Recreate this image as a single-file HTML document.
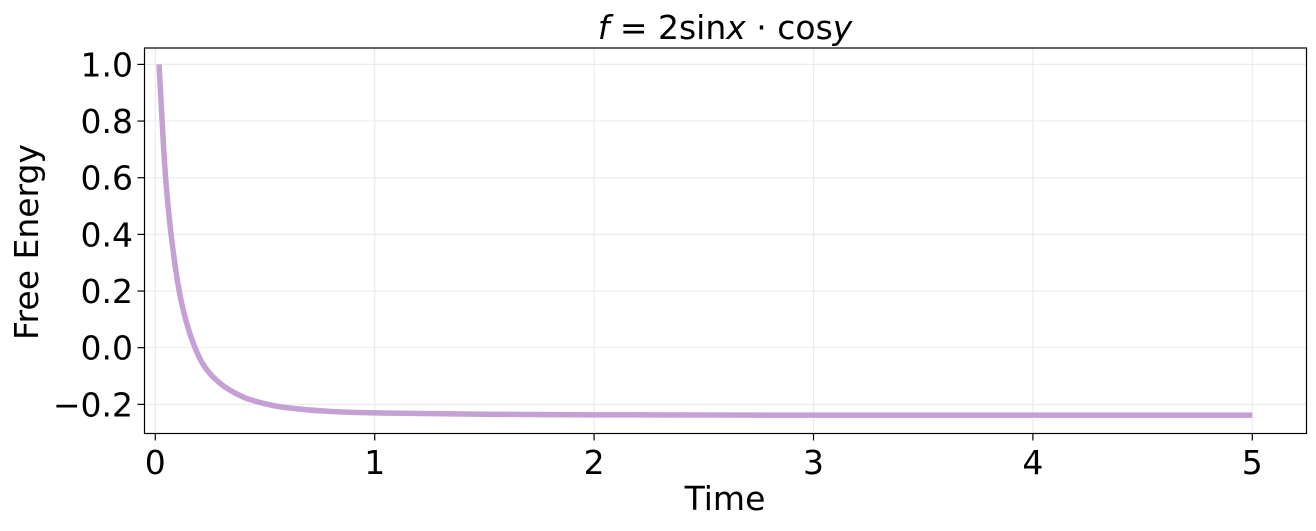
<!DOCTYPE html>
<html><head><meta charset="utf-8"><style>
body{margin:0;background:#fff;}
svg text{font-family:"DejaVu Sans","Liberation Sans",sans-serif;fill:#000;}
</style></head><body>
<svg id="chart" width="1316" height="526" viewBox="0 0 1316 526">
<g id="grid"></g>
<g id="curve"></g>
<rect x="144.5" y="48" width="1162" height="385.5" fill="none" stroke="#000" stroke-width="1.2"/>
<g id="axes"></g>
<text x="725" y="39" font-size="33" text-anchor="middle"><tspan font-style="italic">f</tspan> = 2sin<tspan font-style="italic">x</tspan> · cos<tspan font-style="italic">y</tspan></text>
<text x="725" y="510" font-size="33" text-anchor="middle">Time</text>
<text transform="translate(38,242) rotate(-90)" font-size="33" text-anchor="middle">Free Energy</text>
</svg>
<script>
const times=[0.017,0.031,0.047,0.072,0.109,0.14,0.176,0.215,0.263,0.33,0.43,0.6,0.8,1.0,1.5,2,3,4,5];
const energy=[1.0,0.8,0.6,0.4,0.2,0.095,0.01,-0.055,-0.103,-0.145,-0.183,-0.212,-0.225,-0.23,-0.235,-0.237,-0.238,-0.238,-0.238];
const xTicks=[0,1,2,3,4,5];
const yTicks=[-0.2,0,0.2,0.4,0.6,0.8,1.0];
const yTickLabels=["\u22120.2","0.0","0.2","0.4","0.6","0.8","1.0"];
const NS="http://www.w3.org/2000/svg";
function xs(t){return 155.3+t*219.4;}
function ys(v){return 347.7-v*283.3;}
function mk(tag,attrs,parent){const e=document.createElementNS(NS,tag);for(const k in attrs)e.setAttribute(k,attrs[k]);parent.appendChild(e);return e;}
const grid=document.getElementById('grid'),axes=document.getElementById('axes'),curve=document.getElementById('curve');
xTicks.forEach(t=>{
  const x=xs(t);
  const g=mk('line',{x1:x,x2:x,y1:48,y2:433.5,stroke:'#ebebeb','stroke-width':1.2},grid);
  
  
  const tk=mk('line',{x1:x,x2:x,y1:433.5,y2:440.5,stroke:'#000','stroke-width':1.2},axes);
  
  
  const tx=mk('text',{x:x,y:474,'font-size':33,'text-anchor':'middle'},axes);
  tx.textContent=String(t);
  
  
});
yTicks.forEach((v,i)=>{
  const y=ys(v);
  const g=mk('line',{x1:144.5,x2:1306.5,y1:y,y2:y,stroke:'#ebebeb','stroke-width':1.2},grid);
  
  
  const tk=mk('line',{x1:137.5,x2:144.5,y1:y,y2:y,stroke:'#000','stroke-width':1.2},axes);
  
  
  const tx=mk('text',{x:133,y:y+12,'font-size':33,'text-anchor':'end'},axes);
  tx.textContent=yTickLabels[i];
  
  
});
const P=times.map((t,i)=>[xs(t),ys(energy[i])]);
const n=P.length,d=[],m=[];
for(let i=0;i<n-1;i++)d.push((P[i+1][1]-P[i][1])/(P[i+1][0]-P[i][0]));
m[0]=d[0];m[n-1]=d[n-2];
for(let i=1;i<n-1;i++){m[i]=(d[i-1]*d[i]<=0)?0:2/(1/d[i-1]+1/d[i]);}
let path='M'+P[0][0]+','+P[0][1];
for(let i=0;i<n-1;i++){const h=(P[i+1][0]-P[i][0])/3;
 path+=' C'+(P[i][0]+h)+','+(P[i][1]+m[i]*h)+' '+(P[i+1][0]-h)+','+(P[i+1][1]-m[i+1]*h)+' '+P[i+1][0]+','+P[i+1][1];}
const line=mk('path',{d:path,fill:'none',stroke:'#c5a0d5','stroke-width':5.5},curve);


</script>
</body></html>
